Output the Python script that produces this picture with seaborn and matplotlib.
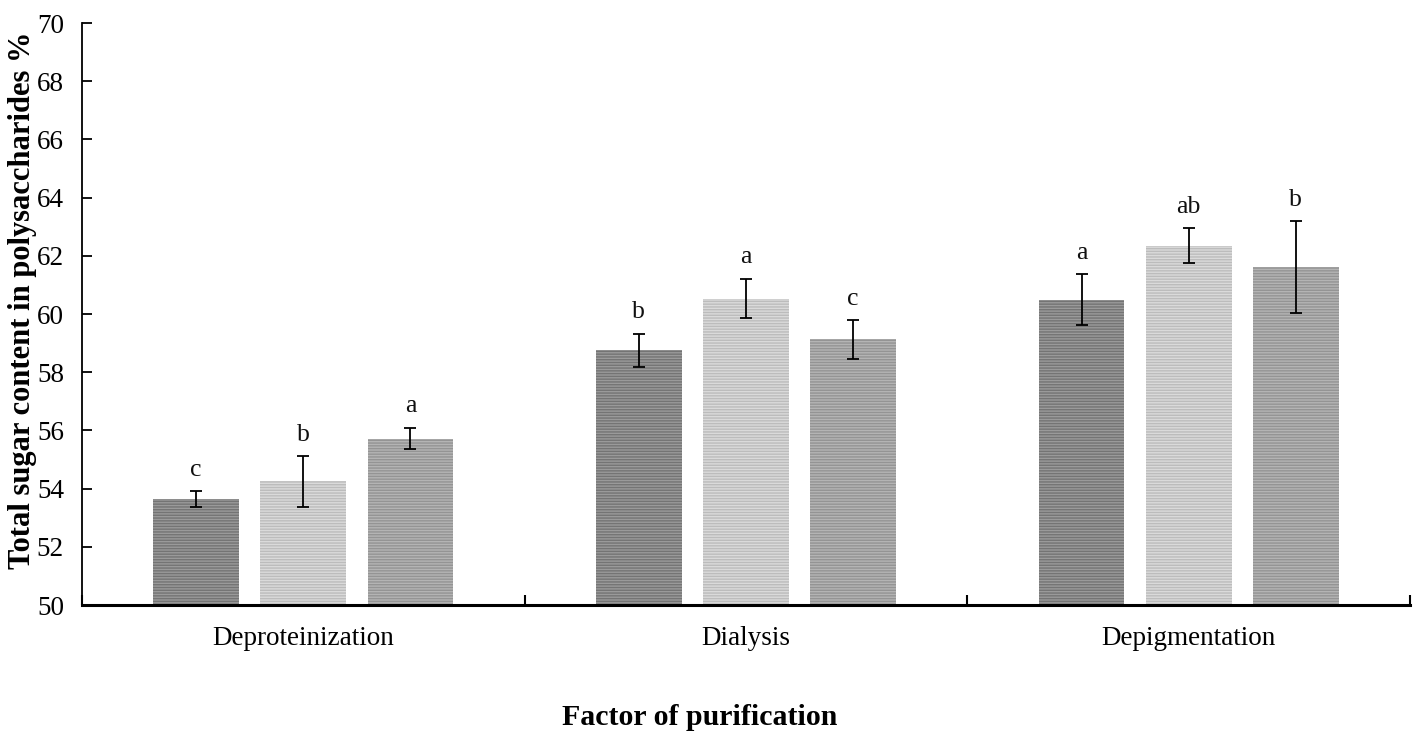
import matplotlib
matplotlib.use("Agg")
import matplotlib.pyplot as plt
import seaborn as sns
import pandas as pd
import numpy as np

categories = ["Deproteinization", "Dialysis", "Depigmentation"]
levels = ["Level 1", "Level 2", "Level 3"]
values = {
    "Level 1": [53.64, 58.75, 60.49],
    "Level 2": [54.25, 60.53, 62.34],
    "Level 3": [55.72, 59.13, 61.60],
}
errors = {
    "Level 1": [0.27, 0.58, 0.87],
    "Level 2": [0.87, 0.68, 0.60],
    "Level 3": [0.37, 0.66, 1.58],
}
letters = {
    "Level 1": ["c", "b", "a"],
    "Level 2": ["b", "a", "ab"],
    "Level 3": ["a", "c", "b"],
}
y_ticks = [50, 52, 54, 56, 58, 60, 62, 64, 66, 68, 70]

fills = ["#9a9a9a", "#dadada", "#b4b4b4"]
hatch_cols = ["#747474", "#bcbcbc", "#949494"]

rows = []
for lv in levels:
    for c, v in zip(categories, values[lv]):
        rows.append({"cat": c, "level": lv, "value": v})
df = pd.DataFrame(rows)

sns.set_theme(style="ticks")
plt.rcParams["font.family"] = ["Liberation Serif", "DejaVu Serif"]
plt.rcParams["hatch.linewidth"] = 1.0
plt.rcParams["text.color"] = "black"
plt.rcParams["axes.labelcolor"] = "black"
plt.rcParams["xtick.color"] = "black"
plt.rcParams["ytick.color"] = "black"

fig = plt.figure(figsize=(14.18, 7.40), dpi=100)
ax = fig.add_axes([0.0578, 0.1824, 0.9366, 0.7865])

sns.barplot(data=df, x="cat", y="value", hue="level", order=categories,
            hue_order=levels, palette=fills, width=0.726, gap=0.2,
            errorbar=None, legend=False, ax=ax, linewidth=0)

for i, (lv, cont) in enumerate(zip(levels, ax.containers)):
    xs = []
    for p in cont.patches:
        p.set_edgecolor(hatch_cols[i])
        p.set_linewidth(0)
        p.set_hatch("------")
        xs.append(p.get_x() + p.get_width() / 2)
    vals = values[lv]
    errs = errors[lv]
    ax.errorbar(xs, vals, yerr=errs, fmt="none", ecolor="black",
                elinewidth=1.3, capsize=4, capthick=1.3, zorder=5)
    for x, v, e, t in zip(xs, vals, errs, letters[lv]):
        ax.text(x, v + e + 0.36, t, ha="center", va="bottom", fontsize=18.5,
                color="#111111")

ax.set_ylim(50, 70)
ax.set_yticks(y_ticks)
ax.set_yticklabels([str(t) for t in y_ticks], fontsize=19.5)
ax.set_xlim(-0.5, 2.5)
ax.set_xticks([-0.5, 0.5, 1.5, 2.5])
ax.set_xticklabels([])
ax.set_xticks([0, 1, 2], minor=True)
ax.set_xticklabels(categories, minor=True, fontsize=19.5)
ax.tick_params(axis="x", which="minor", length=0, pad=15)
ax.tick_params(axis="x", which="major", direction="in", length=7, width=1.5)
ax.tick_params(axis="y", direction="in", length=7, width=1.3, pad=13)

for s in ["top", "right"]:
    ax.spines[s].set_visible(False)
ax.spines["left"].set_linewidth(1.3)
ax.spines["bottom"].set_linewidth(2.2)
ax.spines["left"].set_color("black")
ax.spines["bottom"].set_color("black")

ax.set_xlabel("Factor of purification", fontsize=21.5, fontweight="bold",
              labelpad=38, x=0.465)
ax.set_ylabel("Total sugar content in polysaccharides %", fontsize=22,
              fontweight="bold", labelpad=0, y=0.524)

fig.savefig("out.png", dpi=100, facecolor="white")
